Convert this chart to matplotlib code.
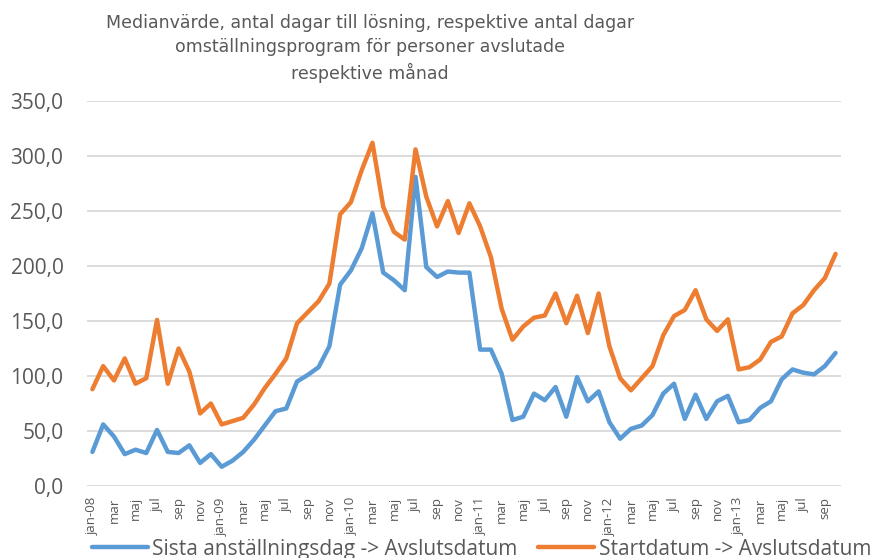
import matplotlib.pyplot as plt
import numpy as np

# Månader jan-08 .. okt-13
manader = ['jan', 'feb', 'mar', 'apr', 'maj', 'jun', 'jul', 'aug', 'sep', 'okt', 'nov', 'dec']
ar = ['08', '09', '10', '11', '12', '13']
etiketter = []
for a in ar:
    for m in manader:
        etiketter.append(m + '-' + a if m == 'jan' else m)
etiketter = etiketter[:70]

# Sista anställningsdag -> Avslutsdatum
sista = [31, 56, 45, 29, 33, 30, 51, 31, 30, 37, 21, 29,
         17.5, 23, 31, 42, 55, 68, 70.5, 95, 101, 108, 127, 183,
         196, 216, 248, 194, 187, 178, 281, 199, 190, 195, 194, 194,
         124, 124, 102, 60, 63, 84, 78, 90, 63, 99, 77, 86,
         58, 43, 52, 55, 64.5, 84, 93, 61, 83, 61, 77, 82,
         58, 60, 71, 77, 97, 106, 103, 101.5, 109, 121]

# Startdatum -> Avslutsdatum
start = [88, 109, 96, 116, 93, 98, 151, 93, 125, 104, 66, 75,
         56, 59, 62, 74, 89, 102, 116, 148, 158, 168, 184, 247,
         258, 287, 312, 254, 231, 224, 306, 263, 236, 259, 230, 257,
         236, 208, 161, 133, 145, 153, 155, 175, 148, 173, 139, 175,
         127, 98, 87, 98, 109, 137, 154.5, 160, 178, 151.5, 141, 151.5,
         106, 108, 115, 131, 136, 157, 164.5, 178, 189, 211]

x = np.arange(len(sista))

fig = plt.figure(figsize=(8.72, 5.58), dpi=100)
ax = fig.add_axes([0.0998, 0.129, 0.8646, 0.690])

ax.plot(x, sista, color='#5B9BD5', linewidth=3.2, solid_capstyle='round',
        label='Sista anställningsdag -> Avslutsdatum')
ax.plot(x, start, color='#ED7D31', linewidth=3.2, solid_capstyle='round',
        label='Startdatum -> Avslutsdatum')

ax.set_xlim(-0.5, 69.5)
ax.set_ylim(0, 350)
ax.set_yticks(np.arange(0, 351, 50))
ax.set_yticklabels([f'{v:.1f}'.replace('.', ',') for v in range(0, 351, 50)],
                   fontsize=15, color='#595959', family='Open Sans')
ax.set_xticks(x[::2])
ax.set_xticklabels(etiketter[::2], rotation=90, fontsize=9.5, color='#595959',
                   family='Open Sans')
ax.tick_params(axis='both', length=0)
ax.tick_params(axis='y', pad=17)
ax.tick_params(axis='x', pad=8)
ax.grid(axis='y', color='#D9D9D9', linewidth=1.3)
ax.set_axisbelow(True)
for s in ax.spines.values():
    s.set_visible(False)

fig.text(0.424, 0.913, 'Medianvärde, antal dagar till lösning, respektive antal dagar\n'
         'omställningsprogram för personer avslutade\nrespektive månad',
         ha='center', va='center', fontsize=12.5, color='#595959', family='DejaVu Sans',
         linespacing=1.4)

fig.legend(loc='center', bbox_to_anchor=(0.552, 0.016), ncol=2, frameon=False,
           handlelength=2.7, handletextpad=0.2, columnspacing=1.0,
           labelcolor='#595959', prop={'family': 'Open Sans', 'size': 15})

fig.savefig('out.png', dpi=100)
